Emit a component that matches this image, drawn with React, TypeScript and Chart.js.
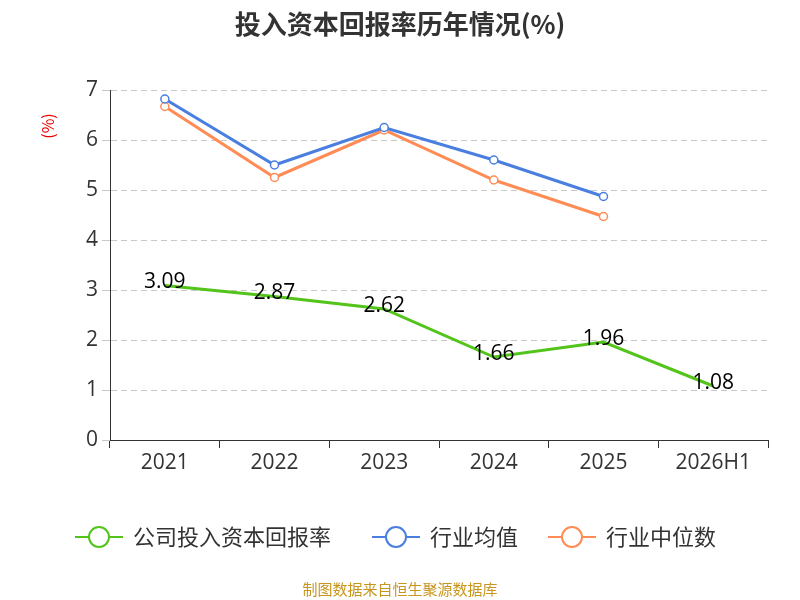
import React, { useEffect, useRef } from "react";
import { Chart, registerables } from "chart.js";
Chart.register(...registerables);

const categories = ["2021", "2022", "2023", "2024", "2025", "2026H1"];
const companyValues = [3.09, 2.87, 2.62, 1.66, 1.96, 1.08];
const industryAvg = [6.82, 5.5, 6.25, 5.6, 4.87, null];
const industryMedian = [6.67, 5.25, 6.2, 5.2, 4.47, null];
const yTicks = [0, 1, 2, 3, 4, 5, 6, 7];
const seriesNames = ["公司投入资本回报率", "行业均值", "行业中位数"];
const colors = ["#52c41a", "#4a7fe0", "#ff8c55"];

const FONT = '"Open Sans", "Noto Sans CJK SC", sans-serif';
const CJK = '"Noto Sans CJK SC", sans-serif';

const overlay = {
  id: "overlay",
  afterDraw(chart: any) {
    const ctx = chart.ctx;
    ctx.save();
    ctx.fillStyle = "#333";
    ctx.font = `bold 26px ${CJK}`;
    ctx.textAlign = "center";
    ctx.textBaseline = "middle";
    ctx.fillText("投入资本回报率历年情况(%)", 400, 24);
    ctx.save();
    ctx.translate(48, 126);
    ctx.rotate(-Math.PI / 2);
    ctx.fillStyle = "#e00";
    ctx.font = `16px ${CJK}`;
    ctx.fillText("(%)", 0, 0);
    ctx.restore();
    const meta = chart.getDatasetMeta(0);
    ctx.fillStyle = "#000";
    ctx.font = `21px ${FONT}`;
    meta.data.forEach((p: any, i: number) => {
      ctx.fillText(companyValues[i].toFixed(2), p.x, p.y - 3);
    });
    const items = [
      { x: 75 },
      { x: 372 },
      { x: 548 },
    ];
    ctx.font = `22px ${CJK}`;
    ctx.textAlign = "left";
    items.forEach((it, i) => {
      const y = 537;
      ctx.strokeStyle = colors[i];
      ctx.lineWidth = 2;
      ctx.beginPath();
      ctx.moveTo(it.x, y);
      ctx.lineTo(it.x + 48, y);
      ctx.stroke();
      ctx.beginPath();
      ctx.arc(it.x + 24, y, 10, 0, Math.PI * 2);
      ctx.fillStyle = "#fff";
      ctx.fill();
      ctx.stroke();
      ctx.fillStyle = "#333";
      ctx.fillText(seriesNames[i], it.x + 58, y);
    });
    ctx.textAlign = "center";
    ctx.fillStyle = "#c8961e";
    ctx.font = `15px ${CJK}`;
    ctx.fillText("制图数据来自恒生聚源数据库", 400, 589);
    ctx.restore();
  },
};

export default function App() {
  const ref = useRef<HTMLCanvasElement>(null);
  useEffect(() => {
    document.body.style.margin = "0";
    const mk = (i: number, data: any[], radius: number) => ({
      label: seriesNames[i],
      data,
      borderColor: colors[i],
      backgroundColor: "#fff",
      borderWidth: 3,
      pointRadius: radius,
      pointBorderWidth: 1.5,
      pointBorderColor: colors[i],
      pointBackgroundColor: "#fff",
      tension: 0,
    });
    const chart = new Chart(ref.current!, {
      type: "line",
      data: {
        labels: categories,
        datasets: [mk(0, companyValues, 0), mk(1, industryAvg, 4), mk(2, industryMedian, 4)],
      },
      options: {
        animation: false,
        responsive: false,
        layout: { padding: { top: 90, right: 32, left: 0, bottom: 0 } },
        plugins: { legend: { display: false }, tooltip: { enabled: false }, title: { display: false } },
        scales: {
          x: {
            offset: true,
            grid: { display: true, drawOnChartArea: false, offset: true, color: "#333", tickLength: 8 },
            border: { color: "#333" },
            ticks: { color: "#333", font: { size: 21, family: FONT }, padding: 2 },
            afterFit: (s: any) => { s.height = 160; },
          } as any,
          y: {
            min: 0,
            max: 7,
            afterBuildTicks: (s: any) => { s.ticks = yTicks.map((v) => ({ value: v })); },
            grid: { color: "#c8c8c8", tickLength: 8, drawTicks: true },
            border: { color: "#333", dash: [6, 4] },
            ticks: { color: "#333", font: { size: 21, family: FONT }, padding: 4 },
            afterFit: (s: any) => { s.width = 110; },
          } as any,
        },
      },
      plugins: [overlay],
    });
    return () => chart.destroy();
  }, []);
  return <canvas ref={ref} width={800} height={600} style={{ display: "block" }} />;
}
